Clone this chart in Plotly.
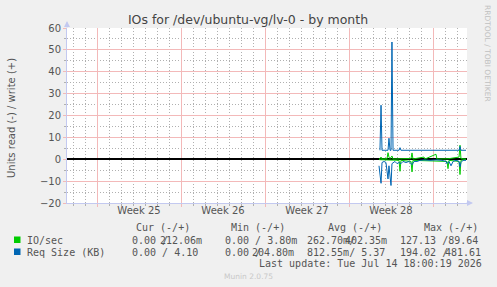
import plotly.graph_objects as go

# ---------------- data (x in days from left edge of the month window) ----------------
week_labels = ["Week 25", "Week 26", "Week 27", "Week 28"]
week_centers = [6, 13, 20, 27]
week_bounds = [2.5, 9.5, 16.5, 23.5, 30.5]

io_write_days = [26.0, 26.08, 26.17, 26.25, 26.67, 26.75, 26.83, 26.92, 27.08, 27.17, 27.75,
                 28.67, 28.75, 28.83, 29.75, 29.83, 30.75, 30.83, 31.75, 32.67, 32.75, 32.83, 33.25]
io_write = [0.1, 0.2, 1.0, 0.1, 0.3, 3.0, 1.0, 0.3, 1.5, 0.1, 0.2,
            0.3, 2.9, 0.1, 1.0, 0.1, 2.3, 0.1, 0.2, 1.0, 6.4, 0.3, 0.1]

io_read_days = [26.0, 26.08, 27.67, 27.75, 27.83, 28.67, 28.75, 28.83, 31.67, 31.75, 31.83,
                32.67, 32.75, 32.83, 33.25]
io_read = [-0.1, -0.2, -0.5, -5.5, -0.5, -1.0, -5.8, -0.5, -1.0, -4.3, -0.5,
           -1.0, -7.0, -0.5, -0.1]

req_write_days = [26.08, 26.17, 26.25, 26.75, 26.83, 26.92, 27.0, 27.08, 27.17, 27.67, 27.75,
                  27.83, 32.67, 32.75, 32.83, 33.25]
req_write = [4.1, 24.7, 4.1, 4.1, 9.6, 4.1, 4.1, 53.6, 4.1, 4.1, 5.3,
             4.1, 4.1, 5.8, 4.1, 4.1]

req_read_days = [26.0, 26.08, 26.17, 26.25, 26.42, 26.58, 26.67, 26.75, 26.83, 26.92, 27.0,
                 27.08, 27.17, 27.33, 27.5, 27.67, 27.83, 28.0, 28.25, 28.5, 28.75, 28.92,
                 29.17, 29.42, 29.75, 30.25, 30.75, 31.25, 31.58, 31.67, 31.83, 32.0, 32.17,
                 32.42, 32.67, 32.75, 32.83, 33.0, 33.25]
req_read = [-3, -6, -11, -1.5, -1, -1.5, -5, -9, -3, -7, -12,
            -2, -1.5, -1, -2, -1.5, -2, -1, -1.5, -1, -2.5, -1,
            -1, -0.5, -0.3, -0.5, -0.3, -0.5, -1, -2, -1, -3, -1,
            -0.5, -1, -3.5, -1.5, -0.5, -0.5]

y_ticks = [-20, -10, 0, 10, 20, 30, 40, 50, 60]
y_minor = [-15, -5, 5, 15, 25, 35, 45, 55]

series_names = ["IO/sec", "Req Size (KB)"]
series_colors = ["#00CC00", "#0066B3"]
col_headers = ["Cur (-/+)", "Min (-/+)", "Avg (-/+)", "Max (-/+)"]
# each cell: (left part, right part) -- right part may be empty
row_io = [("0.00 /", "212.06m"), ("0.00 / 3.80m", ""), ("262.70m/", "402.35m"), ("127.13 /89.64", "")]
row_req = [("0.00 / 4.10", ""), ("0.00 /", "204.80m"), ("812.55m/ 5.37", ""), ("194.02 /", "481.61")]
last_update = "Last update: Tue Jul 14 18:00:19 2026"
title_text = "IOs for /dev/ubuntu-vg/lv-0 - by month"

# ---------------- layout helpers ----------------
W, H = 497, 287
PL, PR, PT, PB = 67, 467, 28, 203


def X(px):
    return (px - PL) / (PR - PL)


def Y(py):
    return (PB - py) / (PB - PT)


TXT = "#555555"
MONO = "DejaVu Sans Mono"
SANS = "DejaVu Sans"
MAJ = "#f3b9b9"
MIN = "#b0b0b0"
AXIS = "#c3c9f0"

fig = go.Figure()
fig.add_trace(go.Scatter(x=io_read_days, y=io_read, mode="lines",
                         line=dict(color=series_colors[0], width=1), hoverinfo="skip"))
fig.add_trace(go.Scatter(x=io_write_days, y=io_write, mode="lines",
                         line=dict(color=series_colors[0], width=1), hoverinfo="skip"))
fig.add_trace(go.Scatter(x=req_read_days, y=req_read, mode="lines",
                         line=dict(color=series_colors[1], width=1), hoverinfo="skip"))
fig.add_trace(go.Scatter(x=req_write_days, y=req_write, mode="lines",
                         line=dict(color=series_colors[1], width=1), hoverinfo="skip"))
# helper trace to attach the week-label axis
fig.add_trace(go.Scatter(x=[None], y=[None], xaxis="x2", yaxis="y", hoverinfo="skip"))

day_lines = [d + 0.5 for d in range(0, 33) if (d + 0.5) not in week_bounds]

fig.update_layout(
    width=W, height=H,
    margin=dict(l=PL, r=W - PR, t=PT, b=H - PB),
    paper_bgcolor="#F0F0F0", plot_bgcolor="#FFFFFF",
    showlegend=False,
    title=dict(text=title_text, x=248 / W, xanchor="center", y=1 - 19.5 / H, yanchor="middle",
               font=dict(family=SANS, size=12.5, color="#444444")),
    xaxis=dict(range=[0, 33.333], tickmode="array", tickvals=week_bounds, showticklabels=False,
               showgrid=True, gridcolor=MAJ, griddash="solid", gridwidth=1,
               ticks="outside", ticklen=3, tickcolor=MAJ,
               minor=dict(tickmode="array", tickvals=day_lines, showgrid=True, gridcolor=MIN,
                          griddash="1px,2px", gridwidth=1, ticks="outside", ticklen=2, tickcolor=MIN),
               showline=True, linecolor=AXIS, linewidth=1, zeroline=False, fixedrange=True),
    xaxis2=dict(range=[0, 33.333], overlaying="x", anchor="y", side="bottom",
                tickmode="array", tickvals=week_centers, ticktext=week_labels,
                showgrid=False, zeroline=False, showline=False, ticks="",
                tickfont=dict(family=SANS, size=10, color=TXT), fixedrange=True),
    yaxis=dict(range=[-20, 60], tickmode="array", tickvals=y_ticks,
               showgrid=True, gridcolor=MAJ, griddash="solid", gridwidth=1,
               ticks="outside", ticklen=3, tickcolor=MAJ,
               minor=dict(tickmode="array", tickvals=y_minor, showgrid=True,
                          gridcolor=MIN, griddash="1px,2px", gridwidth=1, ticks="outside",
                          ticklen=2, tickcolor=MIN),
               zeroline=True, zerolinecolor="#000000", zerolinewidth=1.5,
               showline=True, linecolor=AXIS, linewidth=1,
               tickfont=dict(family=SANS, size=10, color=TXT), fixedrange=True),
)

ann = []
# axis arrows
ann.append(dict(xref="paper", yref="paper", x=0, y=Y(21), ax=0, ay=8, text="", showarrow=True,
                arrowhead=2, arrowsize=1.2, arrowwidth=1, arrowcolor=AXIS))
ann.append(dict(xref="paper", yref="paper", x=X(473), y=0, ax=-8, ay=0, text="", showarrow=True,
                arrowhead=2, arrowsize=1.2, arrowwidth=1, arrowcolor=AXIS))
# y axis title
ann.append(dict(xref="paper", yref="paper", x=X(12), y=Y(118), text="Units read (-) / write (+)",
                textangle=-90, showarrow=False, xanchor="center", yanchor="middle",
                font=dict(family=SANS, size=10, color=TXT)))
# rrdtool credit
ann.append(dict(xref="paper", yref="paper", x=X(488), y=Y(53), text="RRDTOOL / TOBI OETIKER",
                textangle=90, showarrow=False, xanchor="center", yanchor="middle",
                font=dict(family=SANS, size=7.5, color="#c0c0c0")))
# munin version
ann.append(dict(xref="paper", yref="paper", x=X(248), y=Y(276), text="Munin 2.0.75",
                showarrow=False, xanchor="center", yanchor="middle",
                font=dict(family=SANS, size=7.5, color="#c8c8c8")))


def txt(x, y, s, anchor="left"):
    ann.append(dict(xref="paper", yref="paper", x=X(x), y=Y(y), text=s, showarrow=False,
                    xanchor=anchor, yanchor="middle", borderpad=0,
                    font=dict(family=MONO, size=10, color=TXT)))


header_x = [135, 230, 327, 423]
for hx, h in zip(header_x, col_headers):
    txt(hx, 227, h)

left_x = [131, 224, 306, 399]
right_io = [203, None, 388, None]
right_req = [None, 295, None, 482]
for yrow, name, row, rights in [(240, series_names[0], row_io, right_io),
                                (252, series_names[1], row_req, right_req)]:
    txt(26, yrow, name)
    for lx, (l, r), rx in zip(left_x, row, rights):
        txt(lx, yrow, l)
        if r:
            txt(rx, yrow, r, anchor="right")
txt(483, 263, last_update, anchor="right")

shapes = []
for yrow, c in [(240, series_colors[0]), (252, series_colors[1])]:
    shapes.append(dict(type="rect", xref="paper", yref="paper", x0=X(14), x1=X(20.5),
                       y0=Y(yrow + 3), y1=Y(yrow - 3.5), fillcolor=c, line=dict(width=0)))

fig.update_layout(annotations=ann, shapes=shapes)
fig.write_html("out.html")
